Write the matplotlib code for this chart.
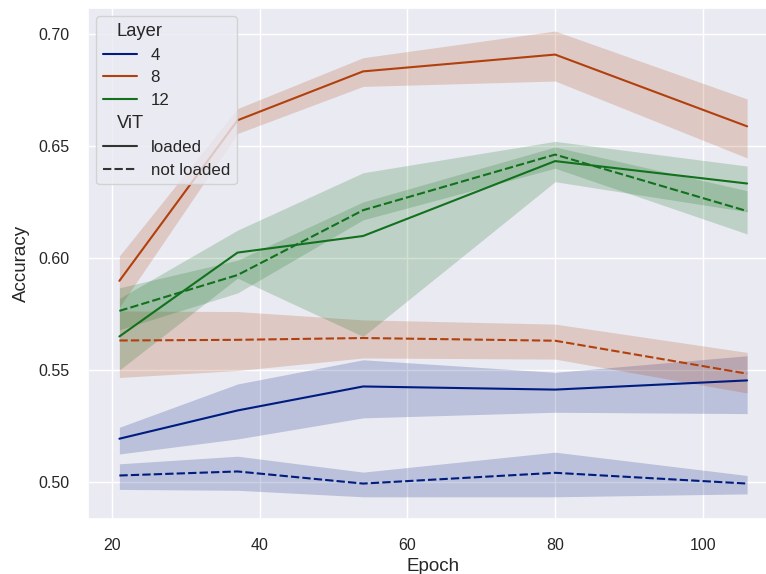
import matplotlib
matplotlib.use('Agg')
import matplotlib.pyplot as plt
from matplotlib.offsetbox import HPacker, DrawingArea, TextArea
import pandas as pd
import seaborn as sns

epochs = [21, 37, 54, 80, 106]
layers = [4, 8, 12]
vit_states = ['loaded', 'not loaded']

# mean accuracy and band (lower / upper) per layer and ViT state
acc_4_loaded = [0.5194, 0.5320, 0.5427, 0.5413, 0.5454]
lo_4_loaded = [0.5126, 0.5193, 0.5287, 0.5312, 0.5306]
hi_4_loaded = [0.5245, 0.5438, 0.5546, 0.5490, 0.5564]

acc_4_not = [0.5030, 0.5048, 0.4994, 0.5042, 0.4994]
lo_4_not = [0.4968, 0.4964, 0.4935, 0.4935, 0.4948]
hi_4_not = [0.5082, 0.5116, 0.5045, 0.5134, 0.5030]

acc_8_loaded = [0.5898, 0.6614, 0.6832, 0.6907, 0.6587]
lo_8_loaded = [0.5780, 0.6555, 0.6765, 0.6789, 0.6446]
hi_8_loaded = [0.6009, 0.6666, 0.6893, 0.7012, 0.6709]

acc_8_not = [0.5632, 0.5635, 0.5643, 0.5631, 0.5484]
lo_8_not = [0.5467, 0.5498, 0.5554, 0.5549, 0.5398]
hi_8_not = [0.5764, 0.5761, 0.5724, 0.5705, 0.5579]

acc_12_loaded = [0.5650, 0.6024, 0.6098, 0.6432, 0.6332]
lo_12_loaded = [0.5500, 0.5910, 0.5650, 0.6340, 0.6206]
hi_12_loaded = [0.5820, 0.6124, 0.6380, 0.6520, 0.6410]

acc_12_not = [0.5764, 0.5924, 0.6213, 0.6461, 0.6209]
lo_12_not = [0.5680, 0.5844, 0.6170, 0.6400, 0.6107]
hi_12_not = [0.5867, 0.5990, 0.6250, 0.6495, 0.6300]

series = {
    (4, 'loaded'): (acc_4_loaded, lo_4_loaded, hi_4_loaded),
    (4, 'not loaded'): (acc_4_not, lo_4_not, hi_4_not),
    (8, 'loaded'): (acc_8_loaded, lo_8_loaded, hi_8_loaded),
    (8, 'not loaded'): (acc_8_not, lo_8_not, hi_8_not),
    (12, 'loaded'): (acc_12_loaded, lo_12_loaded, hi_12_loaded),
    (12, 'not loaded'): (acc_12_not, lo_12_not, hi_12_not),
}

sns.set_theme(style='darkgrid', context='notebook', font_scale=1.05)
plt.rcParams['font.family'] = ['Liberation Sans', 'DejaVu Sans']
plt.rcParams['legend.fontsize'] = 12.2
plt.rcParams['legend.labelspacing'] = 0.45
plt.rcParams['axes.labelsize'] = 13.5

rows = []
for vit in vit_states:
    for layer in layers:
        acc = series[(layer, vit)][0]
        for e, a in zip(epochs, acc):
            rows.append({'Epoch': e, 'Accuracy': a, 'Layer': layer, 'ViT': vit})
df = pd.DataFrame(rows)

colors = sns.color_palette('dark', 3)

fig = plt.figure(figsize=(7.66, 5.74), dpi=100)
ax = fig.add_axes([88 / 766, 55 / 574, 690.5 / 766, 511.3 / 574])

for i, layer in enumerate(layers):
    for vit in vit_states:
        _, lo, hi = series[(layer, vit)]
        ax.fill_between(epochs, lo, hi, color=colors[i], alpha=0.2, linewidth=0)

sns.lineplot(data=df, x='Epoch', y='Accuracy', hue='Layer', style='ViT',
             palette='dark', errorbar=None, ax=ax)

ax.set_xlim(16.75, 110.25)
ax.set_ylim(0.4836, 0.7116)
ax.set_yticks([0.50, 0.55, 0.60, 0.65, 0.70])
ax.set_xticks([20, 40, 60, 80, 100])
ax.tick_params(length=0, pad=13.5)
ax.yaxis.labelpad = 6

leg = ax.get_legend()
leg.set_loc('upper left')
# subtitles ("Layer", "ViT") without handle space, like older seaborn
for hp in leg.findobj(HPacker):
    ch = hp.get_children()
    if len(ch) == 2 and isinstance(ch[0], DrawingArea) and isinstance(ch[1], TextArea):
        if ch[1].get_text() in ('Layer', 'ViT'):
            ch[0].set_width(0)
            for t in ch[1].get_children():
                t.set_size(13.2)

fig.savefig('out.png', dpi=100)
